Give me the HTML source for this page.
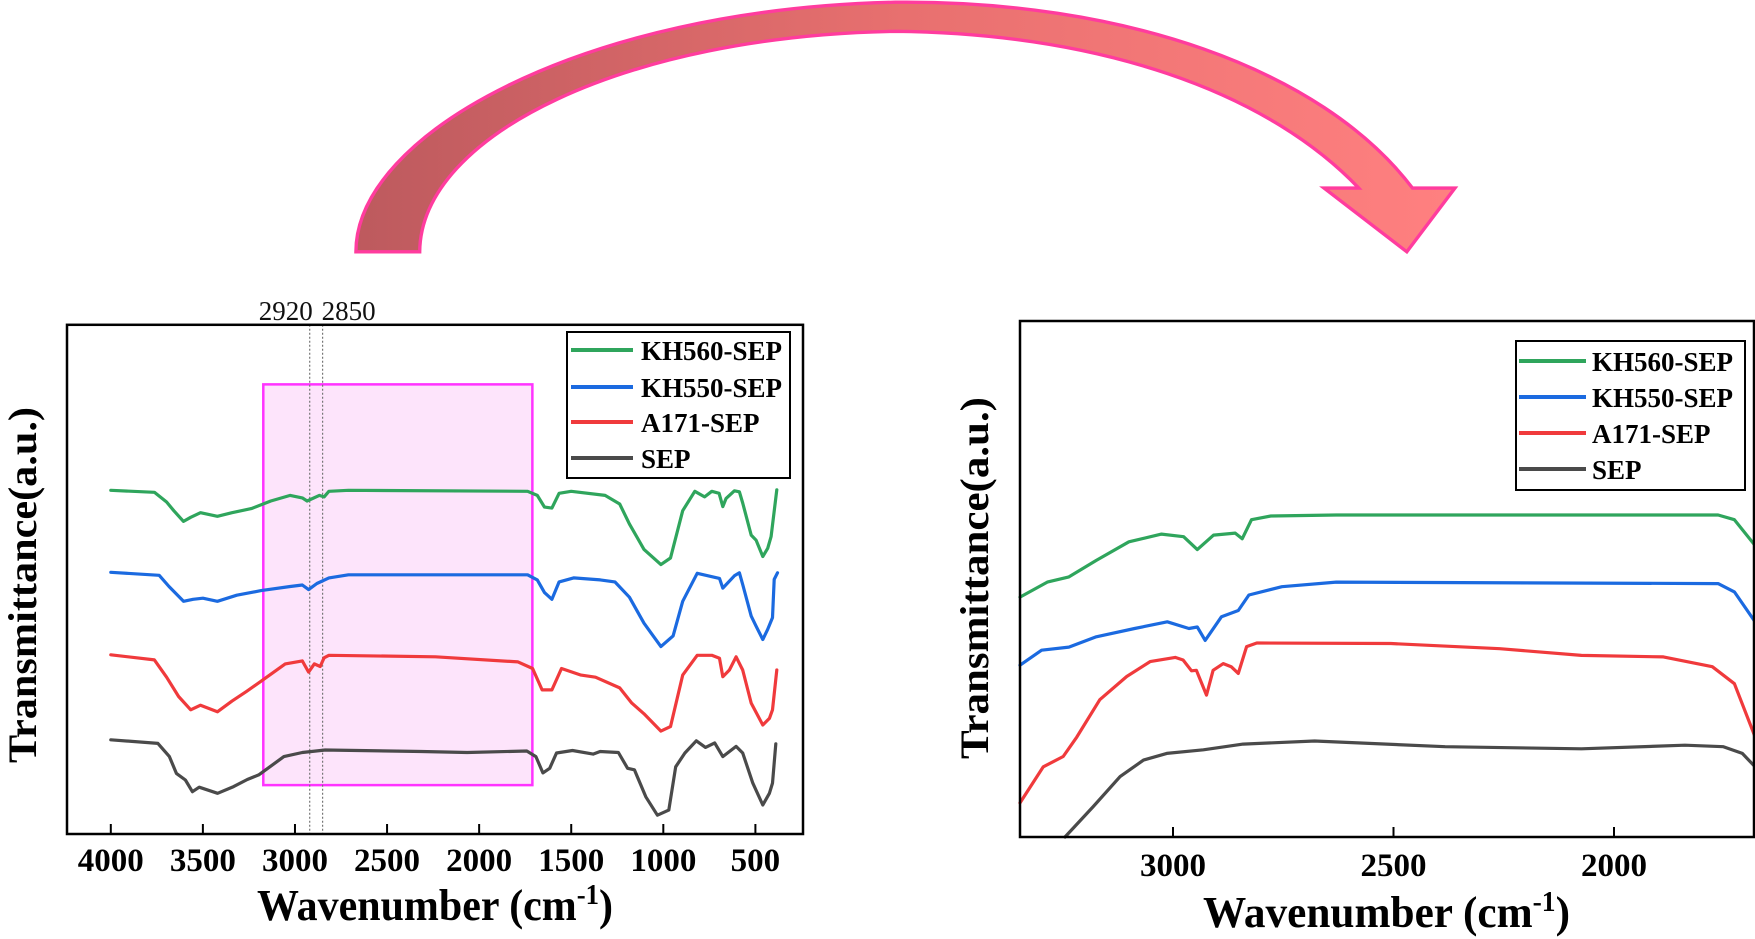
<!DOCTYPE html>
<html><head><meta charset="utf-8"><style>
html,body{margin:0;padding:0;background:#fff;}
svg{display:block;}
text{font-family:"Liberation Serif",serif;}
</style></head><body>
<svg id="fig" width="1755" height="939" viewBox="0 0 1755 939" xmlns="http://www.w3.org/2000/svg">
<defs>
<linearGradient id="arrowGrad" x1="0" y1="0" x2="1" y2="0">
<stop offset="0" stop-color="#bd5a5e"/><stop offset="0.5" stop-color="#e8706f"/><stop offset="1" stop-color="#ff8080"/>
</linearGradient>
</defs>
<g transform="scale(1.1192)">
<path d="M318,225 C318,120 520,8 800,2 C1000,0 1180,60 1262,168 L1300,168 L1257,225 L1183,168 L1214,168 C1130,80 980,30 800,28 C560,32 376,120 375,225 Z" fill="url(#arrowGrad)" stroke="#ff3c9e" stroke-width="3" stroke-linejoin="miter"/>
</g>
<g id="left"></g>
<g id="right"></g>
</svg>
<script>
const seriesNames = ["KH560-SEP","KH550-SEP","A171-SEP","SEP"];
const seriesColors = ["#2fa55c","#1b6ae0","#f03a3c","#4a4a4a"];
// Left chart (full spectrum)
const leftXTicks = [4000,3500,3000,2500,2000,1500,1000,500];
const leftMarkers = [2920,2850];
const leftBox = [3172,1711,9.6,88.3];
const leftGreenWn = [4000,3763,3697,3658,3605,3566,3513,3421,3342,3237,3131,3026,2960,2934,2868,2842,2816,2710,1737,1684,1645,1605,1566,1500,1316,1237,1184,1105,1013,961,895,829,776,737,697,677,659,614,587,569,523,496,460,433,415,384];
const leftGreenV = [67.5,67.1,65.2,63.5,61.4,62.2,63.1,62.4,63.1,63.9,65.4,66.5,66.0,65.4,66.5,66.2,67.3,67.5,67.3,66.5,64.2,64.0,66.9,67.3,66.5,64.8,60.9,55.9,52.9,54.2,63.5,67.3,66.2,67.3,66.9,64.3,65.9,67.4,67.2,65.0,58.7,57.7,54.5,56.1,58.4,67.6];
const leftBlueWn = [4000,3737,3684,3605,3553,3500,3421,3316,3184,3026,2960,2926,2881,2816,2710,1737,1684,1645,1605,1566,1487,1342,1263,1184,1105,1013,947,895,816,695,677,614,587,569,523,496,460,433,407,398,380];
const leftBlueV = [51.4,50.8,48.6,45.7,46.1,46.3,45.7,46.9,47.8,48.6,48.9,48.0,49.2,50.3,50.9,50.9,49.9,47.4,46.1,49.5,50.3,49.9,49.5,46.5,41.4,36.8,38.9,45.7,51.2,50.2,48.3,50.7,51.3,49.0,42.8,40.8,38.2,40.2,42.5,50.0,51.3];
const leftRedWn = [4000,3763,3697,3632,3566,3513,3421,3342,3263,3184,3053,2960,2926,2895,2863,2842,2816,2237,1789,1710,1658,1605,1553,1447,1368,1237,1171,1105,1013,961,895,816,737,695,677,641,605,569,523,460,424,407,384];
const leftRedV = [35.2,34.2,30.8,27.0,24.4,25.3,24.0,26.1,28.0,30.0,33.4,34.0,31.8,33.4,32.9,34.6,35.1,34.8,33.8,32.5,28.3,28.3,32.5,31.2,30.8,28.7,25.7,23.6,20.2,21.1,31.2,35.1,35.1,34.5,30.9,32.2,34.8,32.2,25.7,21.4,22.7,24.4,32.2];
const leftSepWn = [4000,3744,3682,3644,3595,3557,3520,3420,3333,3259,3197,3060,2960,2836,2313,2065,1741,1692,1654,1617,1580,1493,1381,1343,1244,1194,1157,1095,1032,970,933,883,821,771,721,677,605,569,514,460,424,407,389];
const leftSepV = [18.5,17.8,15.2,11.9,10.6,8.3,9.2,8.0,9.3,10.7,11.6,15.2,16.0,16.5,16.2,16.0,16.3,15.2,12.0,12.9,15.9,16.4,15.7,16.2,16.0,12.9,12.6,7.3,3.7,4.7,13.2,15.9,18.3,17.0,17.9,15.2,17.2,15.9,10.0,5.7,8.0,10.0,17.7];
// Right chart (zoomed region)
const rightXTicks = [3000,2500,2000];
const rightGreenWn = [3347,3285,3236,3174,3100,3026,2976,2945,2908,2859,2843,2822,2778,2630,1764,1727,1680];
const rightGreenV = [46.5,49.4,50.4,53.6,57.2,58.7,58.2,55.7,58.5,58.9,57.8,61.5,62.2,62.4,62.4,61.5,56.5];
const rightBlueWn = [3347,3298,3236,3174,3087,3013,2964,2945,2927,2890,2852,2828,2753,2630,1764,1727,1680];
const rightBlueV = [33.3,36.2,36.8,38.8,40.4,41.7,40.4,40.7,38.1,42.7,43.9,46.9,48.5,49.4,49.1,47.5,41.7];
const rightRedWn = [3347,3294,3249,3218,3166,3105,3052,2995,2977,2958,2947,2924,2909,2886,2868,2852,2833,2810,2506,2259,2074,1888,1777,1727,1680];
const rightRedV = [6.6,13.6,15.6,19.4,26.6,31.1,34.0,34.8,34.3,32.2,32.3,27.5,32.3,33.6,33.0,31.7,36.9,37.6,37.5,36.5,35.2,34.9,33.0,29.7,19.4];
const rightSepWn = [3245,3181,3120,3067,3014,2931,2841,2679,2383,2074,1839,1752,1709,1680];
const rightSepV = [0,5.9,11.7,14.9,16.2,16.9,18.0,18.6,17.5,17.1,17.8,17.5,16.2,13.6];

const NS="http://www.w3.org/2000/svg";
function mk(tag,attrs,parent){const e=document.createElementNS(NS,tag);for(const k in attrs)e.setAttribute(k,attrs[k]);parent.appendChild(e);return e;}

function drawChart(g,cfg){
  const xs=w=>cfg.x0+(w-cfg.wn0)*(cfg.x1-cfg.x0)/(cfg.wn1-cfg.wn0);
  const ys=v=>cfg.yb-v*(cfg.yb-cfg.yt)/100;
  if(cfg.box){
    const b=mk('rect',{x:xs(cfg.box[0]),y:ys(cfg.box[3]),width:xs(cfg.box[1])-xs(cfg.box[0]),height:ys(cfg.box[2])-ys(cfg.box[3]),fill:'#fde4fb',stroke:'#ff33ff','stroke-width':2.5},g);
    
    
  }
  if(cfg.markers){
    cfg.markers.forEach((m,i)=>{
      const l=mk('line',{x1:xs(m),x2:xs(m),y1:cfg.yt,y2:cfg.yb,stroke:'#777','stroke-width':1.2,'stroke-dasharray':'2,2'},g);
      
      
      const t=mk('text',{x:i===0?xs(m)+3:xs(m)-1,y:cfg.yt-5,'font-size':27,'text-anchor':i===0?'end':'start',fill:'#111'},g);
      t.textContent=m;
      
      
    });
  }
  cfg.series.forEach((s,i)=>{
    const d=s.wn.map((w,j)=>(j?'L':'M')+xs(w).toFixed(1)+','+ys(s.v[j]).toFixed(1)).join(' ');
    const p=mk('path',{d:d,fill:'none',stroke:seriesColors[i],'stroke-width':3.2,'stroke-linejoin':'round','stroke-linecap':'round'},g);
    
    
  });
  const fr=mk('rect',{x:cfg.fx0,y:cfg.yt,width:cfg.fx1-cfg.fx0,height:cfg.yb-cfg.yt,fill:'none',stroke:'#000','stroke-width':2.5},g);
  
  
  cfg.ticks.forEach(t=>{
    mk('line',{x1:xs(t),x2:xs(t),y1:cfg.yb,y2:cfg.yb-10,stroke:'#000','stroke-width':2},g);
    const tl=mk('text',{x:xs(t),y:cfg.tickY,'font-size':33,'font-weight':'bold','text-anchor':'middle',fill:'#000'},g);
    tl.textContent=t;
    
    
  });
  const xt=mk('text',{x:cfg.titleX,y:cfg.titleY,'font-size':44,'font-weight':'bold',fill:'#000',textLength:cfg.titleLen,lengthAdjust:'spacingAndGlyphs'},g);
  xt.innerHTML='Wavenumber (cm<tspan dy="-16" font-size="28">-1</tspan><tspan dy="16">)</tspan>';
  
  
  const yt=mk('text',{x:0,y:0,'font-size':40,'font-weight':'bold',fill:'#000','text-anchor':'middle',textLength:cfg.ytLen,lengthAdjust:'spacingAndGlyphs',transform:'translate('+cfg.ytX+','+cfg.ytY+') rotate(-90)'},g);
  yt.textContent='Transmittance(a.u.)';
  
  
  const L=cfg.legend;
  const lb=mk('rect',{x:L.x0,y:L.y0,width:L.x1-L.x0,height:L.y1-L.y0,fill:'#fff',stroke:'#000','stroke-width':2},g);
  
  
  seriesNames.forEach((n,i)=>{
    const yy=L.rows[i];
    const ll=mk('line',{x1:L.lx0,x2:L.lx1,y1:yy,y2:yy,stroke:seriesColors[i],'stroke-width':4},g);
    
    
    const lt=mk('text',{x:L.tx,y:yy+10,'font-size':27,'font-weight':'bold',fill:'#000'},g);
    lt.textContent=n;
    
    
  });
}

drawChart(document.getElementById('left'),{
  wn0:4000,wn1:500,x0:110.8,x1:755.4,yb:834,yt:324.8,fx0:67,fx1:803,
  box:leftBox,markers:leftMarkers,ticks:leftXTicks,tickY:871,
  titleX:257,titleY:920,titleLen:356,ytX:36,ytY:585,ytLen:356,
  series:[{wn:leftGreenWn,v:leftGreenV},{wn:leftBlueWn,v:leftBlueV},{wn:leftRedWn,v:leftRedV},{wn:leftSepWn,v:leftSepV}],
  legend:{x0:567,x1:790,y0:332,y1:478,lx0:571,lx1:633,tx:641,rows:[350,387,422,458]}
});
drawChart(document.getElementById('right'),{
  wn0:3000,wn1:2000,x0:1173,x1:1614,yb:837,yt:321,fx0:1020,fx1:1754,
  ticks:rightXTicks,tickY:876,
  titleX:1203,titleY:927,titleLen:367,ytX:988,ytY:578,ytLen:362,
  series:[{wn:rightGreenWn,v:rightGreenV},{wn:rightBlueWn,v:rightBlueV},{wn:rightRedWn,v:rightRedV},{wn:rightSepWn,v:rightSepV}],
  legend:{x0:1516,x1:1745,y0:341,y1:490,lx0:1519,lx1:1586,tx:1592,rows:[361,397,433,469]}
});
</script>
</body></html>
